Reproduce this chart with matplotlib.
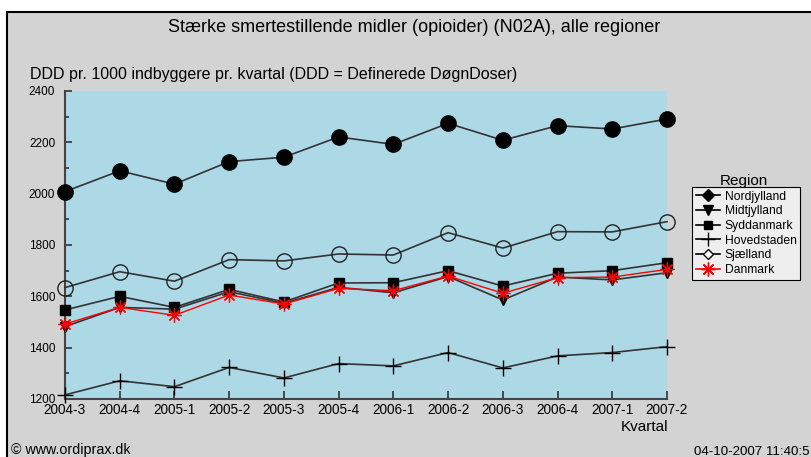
import matplotlib
matplotlib.use("Agg")
import matplotlib.pyplot as plt
from matplotlib.lines import Line2D
from matplotlib.patches import Rectangle
from matplotlib.ticker import MultipleLocator

plt.rcParams['font.family'] = ['Liberation Sans', 'DejaVu Sans']

quarters = ["2004-3", "2004-4", "2005-1", "2005-2", "2005-3", "2005-4",
            "2006-1", "2006-2", "2006-3", "2006-4", "2007-1", "2007-2"]

nordjylland = [2008, 2089, 2037, 2125, 2142, 2221, 2192, 2274, 2208, 2265, 2252, 2291]
midtjylland = [1482, 1557, 1550, 1618, 1573, 1635, 1614, 1677, 1586, 1675, 1664, 1692]
syddanmark = [1547, 1600, 1557, 1627, 1578, 1652, 1653, 1700, 1640, 1690, 1700, 1731]
hovedstaden = [1216, 1271, 1248, 1323, 1282, 1338, 1329, 1381, 1321, 1368, 1381, 1404]
sjaelland = [1634, 1696, 1659, 1743, 1738, 1765, 1761, 1848, 1788, 1852, 1851, 1891]
danmark = [1492, 1557, 1526, 1605, 1570, 1631, 1622, 1679, 1612, 1673, 1675, 1705]

W, H = 811, 457
fig = plt.figure(figsize=(W / 100, H / 100), dpi=100, facecolor='white')

# grey panel with black border
panel = Rectangle((7 / W, -0.1), 1.2, 1 - 12 / H + 0.1, transform=fig.transFigure,
                  facecolor='#d3d3d3', edgecolor='black', linewidth=1.5, zorder=-10)
fig.add_artist(panel)

ax = fig.add_axes([65 / W, 1 - 399 / H, (667 - 65) / W, (399 - 91) / H])
ax.set_zorder(1)
ax.set_facecolor('#add8e6')
x = list(range(len(quarters)))
lc = '#333333'

ax.plot(x, nordjylland, color=lc, lw=1.2, marker='o', ms=11, mfc='black', mec='black', clip_on=False, zorder=3)
ax.plot(x, sjaelland, color=lc, lw=1.2, marker='o', ms=11, mfc='none', mec='#222222', mew=1.0, clip_on=False, zorder=3)
ax.plot(x, syddanmark, color=lc, lw=1.2, marker='s', ms=7, mfc='black', mec='black', clip_on=False, zorder=3)
ax.plot(x, midtjylland, color=lc, lw=1.2, marker='v', ms=7, mfc='black', mec='black', clip_on=False, zorder=3)
ax.plot(x, danmark, color='red', lw=1.0, marker=(8, 2, 0), ms=10, mec='red', mew=0.9, clip_on=False, zorder=4)
ax.plot(x, hovedstaden, color=lc, lw=1.2, marker='+', ms=11, mec='black', mew=1.0, clip_on=False, zorder=3)

ax.set_xlim(0, len(quarters) - 1)
ax.set_ylim(1200, 2400)
ax.set_xticks(x)
ax.set_xticklabels(quarters, fontsize=9.8)
ax.yaxis.set_major_locator(MultipleLocator(200))
ax.yaxis.set_minor_locator(MultipleLocator(100))
ax.tick_params(axis='y', which='major', direction='in', length=5, width=1.2, color='#333333', labelsize=8.5, pad=7)
ax.tick_params(axis='y', which='minor', direction='in', length=3, width=1.2, color='#333333')
ax.tick_params(axis='x', direction='in', length=6, width=1.2, color='#333333', pad=3)
for s in ['top', 'right']:
    ax.spines[s].set_visible(False)
for s in ['left', 'bottom']:
    ax.spines[s].set_color('#444444')
    ax.spines[s].set_linewidth(1.5)

fig.text(414 / W, 1 - 28 / H, "Stærke smertestillende midler (opioider) (N02A), alle regioner",
         ha='center', va='center', fontsize=13)
fig.text(30 / W, 1 - 75 / H, "DDD pr. 1000 indbyggere pr. kvartal (DDD = Definerede DøgnDoser)",
         ha='left', va='center', fontsize=11.5)
fig.text(668 / W, 1 - 427 / H, "Kvartal", ha='right', va='center', fontsize=11)
fig.text(11 / W, 1 - 450 / H, "© www.ordiprax.dk", ha='left', va='center', fontsize=10.3)
fig.text(694 / W, 1 - 452 / H, "04-10-2007 11:40:5", ha='left', va='center', fontsize=9.6)

handles = [
    Line2D([], [], color='black', lw=1.2, marker='D', ms=6, mfc='black', mec='black'),
    Line2D([], [], color='black', lw=1.2, marker='v', ms=7, mfc='black', mec='black'),
    Line2D([], [], color='black', lw=1.2, marker='s', ms=6, mfc='black', mec='black'),
    Line2D([], [], color='black', lw=1.2, marker='+', ms=10, mec='black'),
    Line2D([], [], color='black', lw=1.2, marker='D', ms=5, mfc='white', mec='black'),
    Line2D([], [], color='red', lw=1.2, marker=(8, 2, 0), ms=10, mec='red'),
]
labels = ["Nordjylland", "Midtjylland", "Syddanmark", "Hovedstaden", "Sjælland", "Danmark"]
leg = fig.legend(handles, labels, loc='upper left', bbox_to_anchor=(692 / W, 1 - 187 / H),
                 fontsize=8.7, frameon=True, fancybox=False,
                 edgecolor='black', facecolor='#eeeeee', framealpha=1, handlelength=2.0,
                 handletextpad=0.4, labelspacing=0.22, borderpad=0.3, borderaxespad=0)
leg.get_frame().set_linewidth(0.8)
fig.text(744 / W, 1 - 181 / H, "Region", ha='center', va='center', fontsize=11)

fig.savefig("out.png", dpi=100, facecolor=fig.get_facecolor())
